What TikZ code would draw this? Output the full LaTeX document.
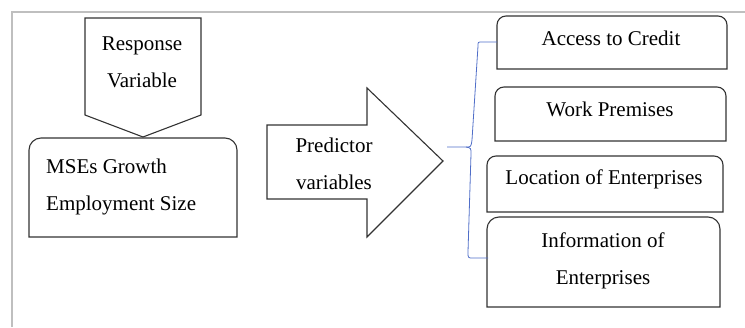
\documentclass[tikz,border=0pt]{standalone}
\usepackage{fontspec}
\setmainfont{Liberation Serif}
\begin{document}
\begin{tikzpicture}[x=1pt,y=-1pt,
  shapeline/.style={draw=black!80, line width=1.1pt, fill=white},
  label/.style={inner sep=0pt, align=center, font=\fontsize{21}{37}\selectfont},
  brace/.style={draw={rgb,255:red,80;green,110;blue,200}, line width=0.8pt},
  frame/.style={draw=black!25, line width=1.4pt}]
\useasboundingbox (0,0) rectangle (745,327);
% page frame
\draw[frame] (12,327) -- (12,12) -- (745,12);

% response variable: downward pentagon arrow
\draw[shapeline] (85,18) -- (201,18) -- (201,115) -- (143,137) -- (85,115) -- cycle;
\node[label] (resp) at (142,62) {Response\\Variable};

% outcome box with rounded top corners
\draw[shapeline] (29,237) [rounded corners=12pt]-- (29,138) -- (237,138) [sharp corners]-- (237,237) -- cycle;
\node[label, align=left, anchor=west] (mse) at (46,187) {MSEs Growth\\Employment Size};

% predictor block arrow
\draw[shapeline] (267,125) -- (367,125) -- (367,88) -- (443,161) -- (367,237) -- (367,199) -- (267,199) -- cycle;
\node[label] (pred) at (334,164) {Predictor\\variables};

% predictor boxes
\draw[shapeline] (497,69) [rounded corners=9pt]-- (497,16) -- (727,16) [sharp corners]-- (727,69) -- cycle;
\node[label] (credit) at (611,38) {Access to Credit};
\draw[shapeline] (495,141) [rounded corners=9pt]-- (495,87) -- (726,87) [sharp corners]-- (726,141) -- cycle;
\node[label] (premises) at (610,109) {Work Premises};
\draw[shapeline] (487,212) [rounded corners=9pt]-- (487,156) -- (723,156) [sharp corners]-- (723,212) -- cycle;
\node[label] (location) at (604,179) {Location of Enterprises};
\draw[shapeline] (487,307) [rounded corners=12pt]-- (487,217) -- (720,217) [sharp corners]-- (720,307) -- cycle;
\node[label] (info) at (603,261) {Information of\\Enterprises};

% grouping brace
\coordinate (btop) at (497,42);
\coordinate (bmid) at (447,147);
\coordinate (bbot) at (488,258);
\draw[brace] (btop) -- (482,42) .. controls (478,42) .. (478,46) -- (472,140)
  .. controls (471,147) .. (466,147) -- (bmid);
\draw[brace] (466,147) .. controls (471,148) .. (471,154) -- (468,252)
  .. controls (468,258) .. (473,258) -- (bbot);
\end{tikzpicture}
\end{document}
